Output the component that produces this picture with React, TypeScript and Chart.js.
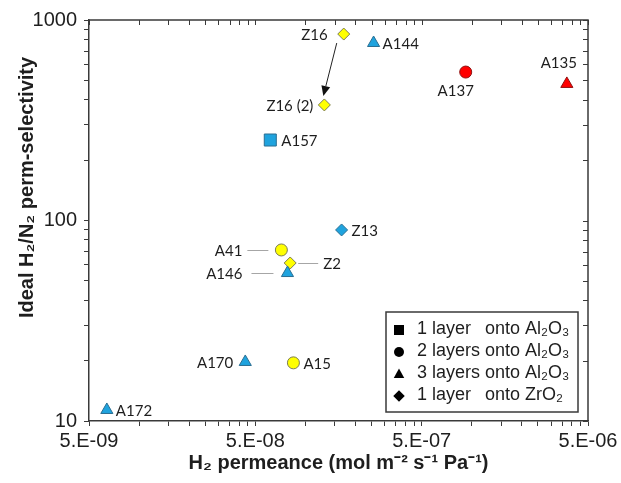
import React, { useEffect, useRef } from "react";
import { Chart, registerables } from "chart.js";

Chart.register(...registerables);

// ---------- data ----------
const squareNames = ["A157"];
const squarePermeance = [6.15e-8];
const squareSelectivity = [252];

const circleNames = ["A137", "A41", "A15"];
const circlePermeance = [9.2e-7, 7.17e-8, 8.47e-8];
const circleSelectivity = [550, 71.3, 19.5];

const triangleNames = ["A144", "A135", "A146", "A170", "A172"];
const trianglePermeance = [2.57e-7, 3.73e-6, 7.8e-8, 4.35e-8, 6.4e-9];
const triangleSelectivity = [768, 480, 54.7, 19.7, 11.35];

const diamondNames = ["Z16", "Z16 (2)", "Z13", "Z2"];
const diamondPermeance = [1.7e-7, 1.3e-7, 1.65e-7, 8.1e-8];
const diamondSelectivity = [851, 377, 89.7, 61.4];

const xMajorTicks = [5e-9, 5e-8, 5e-7, 5e-6];
const xTickLabels = ["5.E-09", "5.E-08", "5.E-07", "5.E-06"];
const yMajorTicks = [10, 100, 1000];
const yTickLabels = ["10", "100", "1000"];

const legendFirst = ["1 layer", "2 layers", "3 layers", "1 layer"];
const legendSecond = ["onto Al₂O₃", "onto Al₂O₃", "onto Al₂O₃", "onto ZrO₂"];
const legendShapes = ["rect", "circle", "triangle", "rectRot"];

const xTitle = "H₂ permeance (mol m⁻² s⁻¹ Pa⁻¹)";
const yTitle = "Ideal H₂/N₂ perm-selectivity";

// ---------- styles ----------
const BLUE = "#1FA3DE";
const YELLOW = "#FFFF00";
const RED = "#FF0000";
const BORDER: Record<string, string> = {
  [BLUE]: "#2A6E92",
  [YELLOW]: "#7C7C52",
  [RED]: "#8E1010",
};
const squareColors = [BLUE];
const circleColors = [RED, YELLOW, YELLOW];
const triangleColors = [BLUE, RED, BLUE, BLUE, BLUE];
const diamondColors = [YELLOW, YELLOW, BLUE, YELLOW];

const AXIS = "#3A3A3A";
const TEXT = "#1E1E1E";
const ARIAL = "'Liberation Sans', Arial, sans-serif";
const LABEL_FONT = "15px Lato, 'Open Sans', sans-serif";

type Placement = { dx: number; dy: number; align: CanvasTextAlign; leader?: [number, number] };
const placements: Record<string, Placement> = {
  A157: { dx: 11, dy: 0, align: "left" },
  A137: { dx: -10, dy: 18, align: "center" },
  A41: { dx: -39, dy: 0, align: "right", leader: [-34, -13] },
  A15: { dx: 10, dy: 0, align: "left" },
  A144: { dx: 9, dy: 0, align: "left" },
  A135: { dx: -8, dy: -22, align: "center" },
  A146: { dx: -45, dy: 0, align: "right", leader: [-36, -14] },
  A170: { dx: -12, dy: 0, align: "right" },
  A172: { dx: 9, dy: 0, align: "left" },
  Z16: { dx: -16, dy: 0, align: "right" },
  "Z16 (2)": { dx: -11, dy: 0, align: "right" },
  Z13: { dx: 10, dy: 0, align: "left" },
  Z2: { dx: 33, dy: 0, align: "left", leader: [8, 28] },
};

function logTicks(majors: number[]) {
  const out: number[] = [];
  for (let i = 0; i < majors.length - 1; i++) {
    for (let k = 1; k < 10; k++) out.push(majors[i] * k);
  }
  out.push(majors[majors.length - 1]);
  return out;
}

function labelFor(v: number, majors: number[], labels: string[]) {
  const i = majors.findIndex((m) => Math.abs(v / m - 1) < 1e-6);
  return i >= 0 ? labels[i] : "";
}

function makeDataset(names: string[], xs: number[], ys: number[], colors: string[], style: string, radius: number) {
  return {
    names,
    data: xs.map((x, i) => ({ x, y: ys[i] })),
    pointStyle: style,
    pointRadius: radius,
    pointBackgroundColor: colors,
    pointBorderColor: colors.map((c) => BORDER[c]),
    pointBorderWidth: 1,
    showLine: false,
  } as any;
}

function drawShape(ctx: CanvasRenderingContext2D, shape: string, x: number, y: number, r: number) {
  ctx.beginPath();
  if (shape === "rect") {
    ctx.rect(x - r, y - r, 2 * r, 2 * r);
  } else if (shape === "circle") {
    ctx.arc(x, y, r, 0, Math.PI * 2);
  } else if (shape === "triangle") {
    ctx.moveTo(x, y - r * 1.1);
    ctx.lineTo(x + r * 1.05, y + r * 0.8);
    ctx.lineTo(x - r * 1.05, y + r * 0.8);
    ctx.closePath();
  } else {
    ctx.moveTo(x, y - r * 1.15);
    ctx.lineTo(x + r * 1.15, y);
    ctx.lineTo(x, y + r * 1.15);
    ctx.lineTo(x - r * 1.15, y);
    ctx.closePath();
  }
  ctx.fill();
}

const framePlugin = {
  id: "frame",
  afterDraw(chart: any) {
    const { ctx, chartArea: a, scales } = chart;
    ctx.save();
    ctx.strokeStyle = AXIS;
    ctx.lineWidth = 1.5;
    ctx.beginPath();
    ctx.moveTo(a.left, a.top);
    ctx.lineTo(a.right, a.top);
    ctx.lineTo(a.right, a.bottom);
    ctx.stroke();
    ctx.lineWidth = 1;
    ctx.beginPath();
    scales.x.ticks.forEach((t: any) => {
      const px = Math.round(scales.x.getPixelForValue(t.value)) + 0.5;
      ctx.moveTo(px, a.top);
      ctx.lineTo(px, a.top + 5);
    });
    scales.y.ticks.forEach((t: any) => {
      const py = Math.round(scales.y.getPixelForValue(t.value)) + 0.5;
      ctx.moveTo(a.right, py);
      ctx.lineTo(a.right - 5, py);
    });
    ctx.stroke();
    // y-axis title (placed a little above the axis centre, as in the original)
    ctx.translate(27, (a.top + a.bottom) / 2 - 33);
    ctx.rotate(-Math.PI / 2);
    ctx.font = `bold 20px ${ARIAL}`;
    ctx.fillStyle = TEXT;
    ctx.textAlign = "center";
    ctx.textBaseline = "middle";
    ctx.fillText(yTitle, 0, 0);
    ctx.restore();
  },
};

const labelPlugin = {
  id: "pointLabels",
  afterDatasetsDraw(chart: any) {
    const { ctx } = chart;
    const pos: Record<string, { x: number; y: number }> = {};
    ctx.save();
    ctx.font = LABEL_FONT;
    ctx.textBaseline = "middle";
    chart.data.datasets.forEach((ds: any, d: number) => {
      const meta = chart.getDatasetMeta(d);
      meta.data.forEach((el: any, i: number) => {
        const name = ds.names[i];
        pos[name] = { x: el.x, y: el.y };
        const p = placements[name];
        if (!p) return;
        if (p.leader) {
          ctx.strokeStyle = "#A6A6A6";
          ctx.lineWidth = 1;
          ctx.beginPath();
          ctx.moveTo(el.x + p.leader[0], Math.round(el.y) + 0.5);
          ctx.lineTo(el.x + p.leader[1], Math.round(el.y) + 0.5);
          ctx.stroke();
        }
        ctx.fillStyle = TEXT;
        ctx.textAlign = p.align;
        ctx.fillText(name, el.x + p.dx, el.y + p.dy + 1);
      });
    });
    // arrow Z16 -> Z16 (2)
    const s = pos["Z16"];
    const e = pos["Z16 (2)"];
    if (s && e) {
      const x1 = s.x - 7, y1 = s.y + 9;
      const x2 = e.x - 1, y2 = e.y - 9;
      const ang = Math.atan2(y2 - y1, x2 - x1);
      const hl = 10, hw = 4.5;
      const bx = x2 - Math.cos(ang) * hl, by = y2 - Math.sin(ang) * hl;
      ctx.strokeStyle = "#222";
      ctx.fillStyle = "#111";
      ctx.lineWidth = 1;
      ctx.beginPath();
      ctx.moveTo(x1, y1);
      ctx.lineTo(bx, by);
      ctx.stroke();
      ctx.beginPath();
      ctx.moveTo(x2, y2);
      ctx.lineTo(bx + Math.sin(ang) * hw, by - Math.cos(ang) * hw);
      ctx.lineTo(bx - Math.sin(ang) * hw, by + Math.cos(ang) * hw);
      ctx.closePath();
      ctx.fill();
    }
    ctx.restore();
  },
};

const legendPlugin = {
  id: "boxLegend",
  afterDraw(chart: any) {
    const { ctx, chartArea: a } = chart;
    const w = 192, h = 100;
    const right = a.right - 10, bottom = a.bottom - 9;
    const left = right - w, top = bottom - h;
    ctx.save();
    ctx.fillStyle = "#FFFFFF";
    ctx.fillRect(left, top, w, h);
    ctx.strokeStyle = AXIS;
    ctx.lineWidth = 1.5;
    ctx.strokeRect(left, top, w, h);
    ctx.font = `18px ${ARIAL}`;
    ctx.textBaseline = "middle";
    ctx.textAlign = "left";
    const textX = left + 31;
    const col2 = textX + ctx.measureText("2 layers ").width;
    legendFirst.forEach((t, i) => {
      const y = top + 17 + i * 22;
      ctx.fillStyle = "#000";
      drawShape(ctx, legendShapes[i], left + 13, y + 1, 5);
      ctx.fillStyle = TEXT;
      ctx.fillText(t, textX, y);
      ctx.fillText(legendSecond[i], col2, y);
    });
    ctx.restore();
  },
};

export default function App() {
  const ref = useRef<HTMLCanvasElement>(null);
  useEffect(() => {
    if (!ref.current) return;
    const chart = new Chart(ref.current, {
      type: "scatter",
      data: {
        datasets: [
          makeDataset(squareNames, squarePermeance, squareSelectivity, squareColors, "rect", 8.5),
          makeDataset(circleNames, circlePermeance, circleSelectivity, circleColors, "circle", 6),
          makeDataset(triangleNames, trianglePermeance, triangleSelectivity, triangleColors, "triangle", 7),
          makeDataset(diamondNames, diamondPermeance, diamondSelectivity, diamondColors, "rectRot", 6),
        ],
      },
      options: {
        responsive: false,
        animation: false,
        events: [],
        layout: { padding: { top: 20, right: 33, left: 0, bottom: 0 } },
        plugins: { legend: { display: false }, tooltip: { enabled: false } },
        scales: {
          x: {
            type: "logarithmic",
            position: "bottom",
            min: xMajorTicks[0],
            max: xMajorTicks[xMajorTicks.length - 1],
            afterBuildTicks: (scale: any) => {
              scale.ticks = logTicks(xMajorTicks).map((v) => ({ value: v }));
            },
            afterFit: (scale: any) => {
              scale.height = 62;
            },
            ticks: {
              autoSkip: false,
              maxRotation: 0,
              padding: 3,
              color: TEXT,
              font: { family: ARIAL, size: 20 },
              callback: (v: any) => labelFor(Number(v), xMajorTicks, xTickLabels),
            },
            grid: { drawOnChartArea: false, drawTicks: true, tickLength: 5, color: AXIS, lineWidth: 1 },
            border: { display: true, color: AXIS, width: 1.5 },
            title: {
              display: true,
              text: xTitle,
              color: TEXT,
              font: { family: ARIAL, size: 20, weight: "bold" },
              padding: { top: 0, bottom: 8 },
            },
          },
          y: {
            type: "logarithmic",
            position: "left",
            min: yMajorTicks[0],
            max: yMajorTicks[yMajorTicks.length - 1],
            afterBuildTicks: (scale: any) => {
              scale.ticks = logTicks(yMajorTicks).map((v) => ({ value: v }));
            },
            afterFit: (scale: any) => {
              scale.width = 89;
            },
            ticks: {
              autoSkip: false,
              padding: 7,
              color: TEXT,
              font: { family: ARIAL, size: 20 },
              callback: (v: any) => labelFor(Number(v), yMajorTicks, yTickLabels),
            },
            grid: { drawOnChartArea: false, drawTicks: true, tickLength: 5, color: AXIS, lineWidth: 1 },
            border: { display: true, color: AXIS, width: 1.5 },
            title: { display: false },
          },
        },
      } as any,
      plugins: [framePlugin, labelPlugin, legendPlugin],
    });
    return () => chart.destroy();
  }, []);

  return (
    <div style={{ position: "absolute", left: 0, top: 0, width: 621, height: 483 }}>
      <canvas ref={ref} width={621} height={483} />
    </div>
  );
}
